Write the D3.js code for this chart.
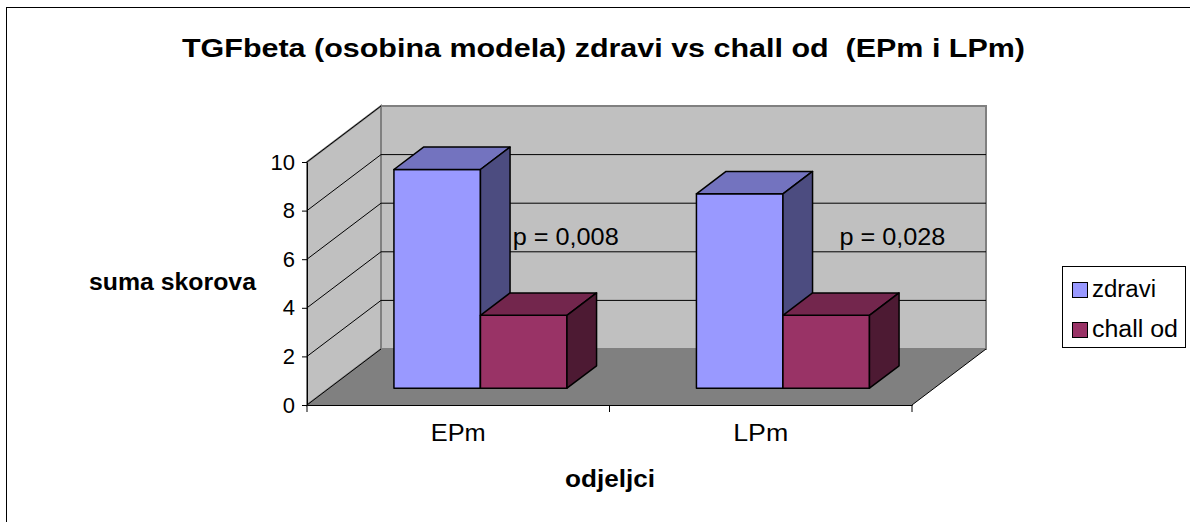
<!DOCTYPE html>
<html>
<head>
<meta charset="utf-8">
<script src="https://cdn.jsdelivr.net/npm/d3@7"></script>
<style>
  body { margin: 0; background: #fff; }
  text { font-family: Arial, "Liberation Sans", sans-serif; fill: #000; white-space: pre; }
</style>
</head>
<body>
<svg id="chart" width="1190" height="522"></svg>
<script>
// chart data
var categories = ["EPm", "LPm"];
var seriesNames = ["zdravi", "chall od"];
var zdravi = [9, 8];
var challOd = [3, 3];
var pLabels = ["p = 0,008", "p = 0,028"];
var yTicks = [0, 2, 4, 6, 8, 10];

var titleText = "TGFbeta (osobina modela) zdravi vs chall od  (EPm i LPm)";
var yTitle = "suma skorova";
var xTitle = "odjeljci";

var svg = d3.select("#chart");

// outer chart border (only left + top fall inside the picture)
svg.append("rect")
    .attr("x", 6.5).attr("y", 7.5)
    .attr("width", 1300).attr("height", 700)
    .attr("fill", "none").attr("stroke", "#000").attr("stroke-width", 1);

// front plane scales + depth vector for the fake 3d
var y = d3.scaleLinear().domain([0, 10]).range([405, 162]);
var x0 = d3.scaleBand().domain(categories).range([307, 912])
    .paddingInner(0.428).paddingOuter(0.214);
var x1 = d3.scaleBand().domain(seriesNames).range([0, x0.bandwidth()]);
var DX = 74, DY = -56;
var d0 = 0.3, d1 = 0.7;   // bars sit in the middle of the depth

function P(px, v, d) {
    return [px + DX * d, y(v) + DY * d];
}
function poly(pts) {
    return pts.map(function(p){ return p[0] + "," + p[1]; }).join(" ");
}

var xL = x0.range()[0], xR = x0.range()[1];

// back wall
svg.append("polygon")
    .attr("points", poly([P(xL, 0, 1), P(xR, 0, 1), P(xR, 10, 1), P(xL, 10, 1)]))
    .attr("fill", "#c0c0c0").attr("stroke", "#808080").attr("stroke-width", 2);
// left wall
svg.append("polygon")
    .attr("points", poly([P(xL, 0, 0), P(xL, 0, 1), P(xL, 10, 1), P(xL, 10, 0)]))
    .attr("fill", "#c0c0c0").attr("stroke", "#808080").attr("stroke-width", 2);
// floor
svg.append("polygon")
    .attr("points", poly([P(xL, 0, 0), P(xR, 0, 0), P(xR, 0, 1), P(xL, 0, 1)]))
    .attr("fill", "#808080").attr("stroke", "none");
svg.append("line")
    .attr("x1", P(xR, 0, 0)[0]).attr("y1", P(xR, 0, 0)[1])
    .attr("x2", P(xR, 0, 1)[0]).attr("y2", P(xR, 0, 1)[1])
    .attr("stroke", "#000");
svg.append("line")
    .attr("x1", P(xL, 0, 0)[0]).attr("y1", P(xL, 0, 0)[1])
    .attr("x2", P(xL, 0, 1)[0]).attr("y2", P(xL, 0, 1)[1])
    .attr("stroke", "#000");

// gridlines on left + back wall
var gridVals = yTicks.filter(function(v){ return v > 0 && v < 10; });
gridVals.forEach(function(v){
    var a = P(xL, v, 0), b = P(xL, v, 1), c = P(xR, v, 1);
    svg.append("polyline")
        .attr("points", poly([a, b, c]))
        .attr("fill", "none").attr("stroke", "#000").attr("stroke-width", 1);
});
// top edge of left wall
svg.append("line")
    .attr("x1", P(xL, 10, 0)[0]).attr("y1", P(xL, 10, 0)[1])
    .attr("x2", P(xL, 10, 1)[0]).attr("y2", P(xL, 10, 1)[1])
    .attr("stroke", "#000");

// y axis
var yAxis = svg.append("g")
    .attr("transform", "translate(" + xL + ",0)")
    .call(d3.axisLeft(y).tickValues(yTicks).tickSize(5).tickSizeOuter(0).tickPadding(7));
yAxis.select(".domain").attr("stroke", "#000");
yAxis.selectAll("text").style("font-size", "22px")
    .attr("font-family", null);

// x axis
var xAxis = svg.append("g")
    .attr("transform", "translate(0," + y(0) + ")")
    .call(d3.axisBottom(x0).tickSize(0).tickSizeOuter(0).tickPadding(20));
xAxis.select(".domain").attr("stroke", "#000");
xAxis.selectAll("text").style("font-size", "23px").attr("font-family", null)
    .attr("textLength", 55).attr("lengthAdjust", "spacingAndGlyphs");
// boundary ticks between categories
var bounds = [xL].concat(categories.map(function(c){ return x0(c) + x0.bandwidth() + x0.step() * 0.214; }));
svg.selectAll(".bt").data(bounds).enter().append("line")
    .attr("x1", function(d){ return d; }).attr("x2", function(d){ return d; })
    .attr("y1", y(0)).attr("y2", y(0) + 7)
    .attr("stroke", "#000");

// bars
var colors = {
    "zdravi":   { front: "#9999ff", top: "#7373bf", side: "#4c4c80" },
    "chall od": { front: "#993366", top: "#73264d", side: "#4d1a33" }
};
var rows = [];
categories.forEach(function(c, i){
    rows.push({ cat: c, s: "zdravi", v: zdravi[i] });
    rows.push({ cat: c, s: "chall od", v: challOd[i] });
});

var bar = svg.selectAll(".bar").data(rows).enter().append("g").attr("class", "bar");
bar.each(function(d){
    var g = d3.select(this);
    var a = x0(d.cat) + x1(d.s), b = a + x1.bandwidth();
    var col = colors[d.s];
    g.append("polygon")
        .attr("points", poly([P(a, 0, d0), P(b, 0, d0), P(b, d.v, d0), P(a, d.v, d0)]))
        .attr("fill", col.front);
    g.append("polygon")
        .attr("points", poly([P(a, d.v, d0), P(b, d.v, d0), P(b, d.v, d1), P(a, d.v, d1)]))
        .attr("fill", col.top);
    g.append("polygon")
        .attr("points", poly([P(b, 0, d0), P(b, 0, d1), P(b, d.v, d1), P(b, d.v, d0)]))
        .attr("fill", col.side);
    g.selectAll("polygon").attr("stroke", "#000").attr("stroke-width", 1.5)
        .attr("stroke-linejoin", "round");
});

// p value annotations
var pShift = [0.68, 0.76];
svg.selectAll(".plab").data(pLabels).enter().append("text")
    .attr("x", function(d, i){ return x0(categories[i]) - x0.step() * 0.214 + x0.step() * pShift[i]; })
    .attr("y", 245)
    .style("font-size", "23px")
    .attr("textLength", 106).attr("lengthAdjust", "spacingAndGlyphs")
    .text(function(d){ return d; });

// titles
svg.append("text")
    .attr("x", 182).attr("y", 57)
    .style("font-size", "26px").style("font-weight", "bold")
    .attr("textLength", 843).attr("lengthAdjust", "spacingAndGlyphs")
    .text(titleText);
svg.append("text")
    .attr("x", 89).attr("y", 290)
    .style("font-size", "23px").style("font-weight", "bold")
    .attr("textLength", 167).attr("lengthAdjust", "spacingAndGlyphs")
    .text(yTitle);
svg.append("text")
    .attr("x", 565).attr("y", 487)
    .style("font-size", "23px").style("font-weight", "bold")
    .attr("textLength", 90).attr("lengthAdjust", "spacingAndGlyphs")
    .text(xTitle);

// legend
var legendW = [64, 86];
var legend = svg.append("g").attr("transform", "translate(1062,266)");
legend.append("rect")
    .attr("x", 0.5).attr("y", 0.5).attr("width", 123).attr("height", 81)
    .attr("fill", "#fff").attr("stroke", "#000");
var li = legend.selectAll(".li").data(seriesNames).enter().append("g")
    .attr("transform", function(d, i){ return "translate(10," + (16 + i * 40) + ")"; });
li.append("rect")
    .attr("x", 0.5).attr("y", 0.5).attr("width", 15).attr("height", 15)
    .attr("fill", function(d){ return colors[d].front; })
    .attr("stroke", "#000");
li.append("text")
    .attr("x", 20).attr("y", 15)
    .style("font-size", "23px")
    .attr("textLength", function(d, i){ return legendW[i]; })
    .attr("lengthAdjust", "spacingAndGlyphs")
    .text(function(d){ return d; });
</script>
</body>
</html>
